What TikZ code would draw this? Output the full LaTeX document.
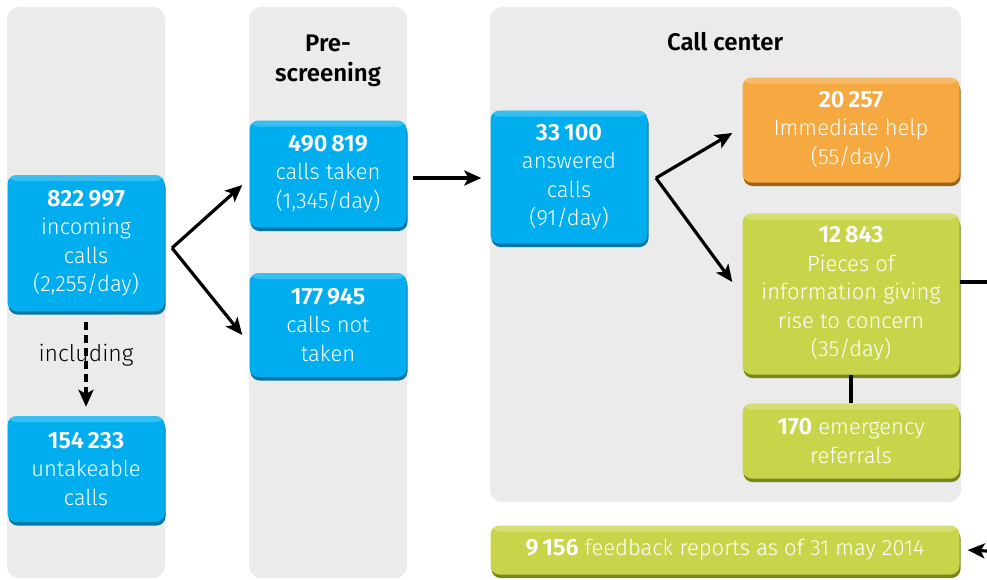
\documentclass[tikz,border=0pt]{standalone}
\usepackage{fontspec}
\setmainfont{Fira Sans}[UprightFont={Fira Sans Light},BoldFont={Fira Sans SemiBold}]
\usetikzlibrary{arrows.meta,shadows}
\definecolor{panelgrey}{HTML}{EBEBEB}
\definecolor{cblue}{HTML}{00AEEF}
\definecolor{cbluedark}{HTML}{0077A6}
\definecolor{corange}{HTML}{F5A940}
\definecolor{corangedark}{HTML}{9E6418}
\definecolor{cgreen}{HTML}{C8D54B}
\definecolor{cgreendark}{HTML}{7A861C}
\newcommand{\bignum}[1]{{\fontsize{23.5}{28.5}\selectfont\bfseries #1}}
\tikzset{
  panel/.style={fill=panelgrey, rounded corners=12pt},
  basebox/.style={rectangle, rounded corners=9pt, text=white, align=center,
    font=\fontsize{22}{28.5}\selectfont, inner sep=0pt,
    path picture={\fill[white, opacity=0.22] (path picture bounding box.north west) rectangle ([yshift=-6pt]path picture bounding box.north east);}},
  bluebox/.style={basebox, fill=cblue, drop shadow={shadow xshift=1pt, shadow yshift=-3.5pt, fill=cbluedark, opacity=1}},
  orangebox/.style={basebox, fill=corange, drop shadow={shadow xshift=1pt, shadow yshift=-3.5pt, fill=corangedark, opacity=1}},
  greenbox/.style={basebox, fill=cgreen, drop shadow={shadow xshift=1pt, shadow yshift=-3.5pt, fill=cgreendark, opacity=1}},
  title/.style={font=\fontsize{24}{30}\selectfont\bfseries, align=center, text=black},
  flow/.style={line width=3.2pt, -{Stealth[length=17pt,width=15pt,inset=4pt]}},
  plainline/.style={line width=3.4pt},
}
\begin{document}
\begin{tikzpicture}[x=1pt,y=-1pt]
\useasboundingbox (0,0) rectangle (987,579);
% panels
\fill[panel] (7,7) rectangle (165,578);
\fill[panel] (249,7) rectangle (407,578);
\fill[panel] (490,7) rectangle (961,502);
% titles
\node[title] (t2) at (328,61) {Pre-\\screening};
\node[title] (t3) at (725,42) {Call center};
% boxes
\node[bluebox, minimum width=157pt, minimum height=136pt] (inc) at (86,243) {\bignum{822\,997}\\incoming\\calls\\(2,255/day)};
\node[bluebox, minimum width=157pt, minimum height=106pt] (unt) at (86,469) {\bignum{154\,233}\\untakeable\\calls};
\node[bluebox, minimum width=157pt, minimum height=107pt] (tak) at (328,174) {\bignum{490\,819}\\calls taken\\(1,345/day)};
\node[bluebox, minimum width=157pt, minimum height=104pt] (not) at (328,325) {\bignum{177\,945}\\calls not\\taken};
\node[bluebox, minimum width=157pt, minimum height=133pt] (ans) at (569,177) {\bignum{33\,100}\\answered\\calls\\(91/day)};
\node[orangebox, minimum width=217pt, minimum height=105pt] (imm) at (851,130) {\bignum{20\,257}\\Immediate help\\(55/day)};
\node[greenbox, minimum width=217pt, minimum height=161pt] (con) at (851,294) {\bignum{12\,843}\\Pieces of\\information giving\\rise to concern\\(35/day)};
\node[greenbox, minimum width=217pt, minimum height=75pt] (eme) at (851,441) {\bignum{170} emergency\\referrals};
\node[greenbox, minimum width=469pt, minimum height=49pt] (fee) at (725,550) {\bignum{9\,156} feedback reports as of 31 may 2014};
% coordinates
\coordinate (s1) at (172,248);
\coordinate (s2) at (656,178);
\coordinate (a1) at (413,178);
\coordinate (d1) at (86,322);
\coordinate (r1) at (987,282);
\coordinate (r2) at (987,551);
% connectors
\draw[flow] (s1) -- ([xshift=-7pt,yshift=-11pt]tak.west);
\draw[flow] (s1) -- ([xshift=-7pt,yshift=-10pt]not.west);
\draw[flow] (a1) -- ([xshift=-9pt,yshift=-1pt]ans.west);
\draw[flow] (s2) -- ([xshift=-10pt,yshift=-3pt]imm.west);
\draw[flow] (s2) -- ([xshift=-10pt,yshift=12pt]con.west);
\node[font=\fontsize{23}{26}\selectfont, text=black] (incl) at (86,355) {including};
\draw[flow, dash pattern=on 8pt off 5pt] (d1) -- ([yshift=9pt]unt.north);
\draw[plainline] ([yshift=12pt]con.east) -- (r1);
\draw[plainline] (con.south) -- (eme.north);
\draw[flow] (r2) -- ([xshift=8pt]fee.east);
\end{tikzpicture}
\end{document}
